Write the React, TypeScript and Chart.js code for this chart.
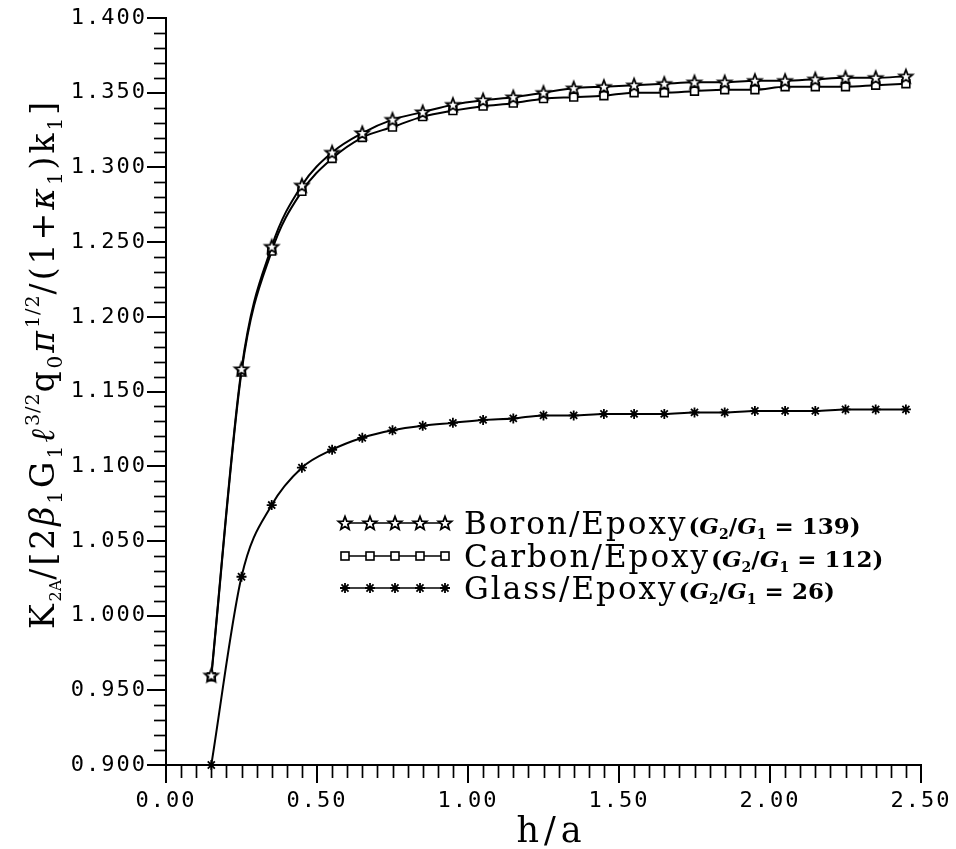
import React, { useEffect, useRef } from 'react';
import { Chart, registerables } from 'chart.js';

Chart.register(...registerables);

// ---- data ----
const hOverA = [0.15, 0.25, 0.35, 0.45, 0.55, 0.65, 0.75, 0.85, 0.95, 1.05, 1.15, 1.25, 1.35, 1.45, 1.55, 1.65, 1.75, 1.85, 1.95, 2.05, 2.15, 2.25, 2.35, 2.45];
const boronEpoxy = [0.960, 1.165, 1.247, 1.288, 1.310, 1.323, 1.332, 1.337, 1.342, 1.345, 1.347, 1.350, 1.353, 1.354, 1.355, 1.356, 1.357, 1.357, 1.358, 1.358, 1.359, 1.360, 1.360, 1.361];
const carbonEpoxy = [0.959, 1.163, 1.244, 1.284, 1.306, 1.320, 1.327, 1.334, 1.338, 1.341, 1.343, 1.346, 1.347, 1.348, 1.350, 1.350, 1.351, 1.352, 1.352, 1.354, 1.354, 1.354, 1.355, 1.356];
const glassEpoxy = [0.900, 1.026, 1.074, 1.099, 1.111, 1.119, 1.124, 1.127, 1.129, 1.131, 1.132, 1.134, 1.134, 1.135, 1.135, 1.135, 1.136, 1.136, 1.137, 1.137, 1.137, 1.138, 1.138, 1.138];
const seriesNames = ['Boron/Epoxy', 'Carbon/Epoxy', 'Glass/Epoxy'];
const shearRatios = ['139', '112', '26'];
const xMin = 0, xMax = 2.5, xMajorStep = 0.5, xMinorStep = 0.05;
const yMin = 0.9, yMax = 1.4, yMajorStep = 0.05, yMinorStep = 0.01;
const xTitle = 'h/a';

type Seg = { t: string; font: string; dy?: number; ls?: number };

function segWidth(ctx: CanvasRenderingContext2D, segs: Seg[]) {
  let w = 0;
  for (const s of segs) {
    ctx.font = s.font;
    (ctx as any).letterSpacing = (s.ls ?? 0) + 'px';
    w += ctx.measureText(s.t).width;
  }
  return w;
}
function drawSegs(ctx: CanvasRenderingContext2D, segs: Seg[], x: number, y: number) {
  let cx = x;
  for (const s of segs) {
    ctx.font = s.font;
    (ctx as any).letterSpacing = (s.ls ?? 0) + 'px';
    ctx.fillText(s.t, cx, y + (s.dy ?? 0));
    cx += ctx.measureText(s.t).width;
  }
  return cx - x;
}

function makeStarCanvas(outer: number, inner: number, lw: number) {
  const size = Math.ceil(outer * 2 + lw * 2 + 2);
  const c = document.createElement('canvas');
  c.width = size; c.height = size;
  const g = c.getContext('2d')!;
  const cx = size / 2, cy = size / 2 + 0.5;
  g.beginPath();
  for (let i = 0; i < 10; i++) {
    const r = i % 2 === 0 ? outer : inner;
    const a = -Math.PI / 2 + (i * Math.PI) / 5;
    const px = cx + r * Math.cos(a), py = cy + r * Math.sin(a);
    if (i === 0) g.moveTo(px, py); else g.lineTo(px, py);
  }
  g.closePath();
  g.fillStyle = '#fff';
  g.fill();
  g.lineWidth = lw;
  g.strokeStyle = '#000';
  g.stroke();
  return c;
}

const SERIF = '"DejaVu Serif"';

export default function App() {
  const ref = useRef<HTMLCanvasElement | null>(null);
  useEffect(() => {
    const canvas = ref.current!;
    const starImg = makeStarCanvas(7, 3, 1.8);

    const decor = {
      id: 'decor',
      beforeDraw(chart: any) {
        chart.ctx.letterSpacing = '2px';
      },
      afterDraw(chart: any) {
        const ctx: CanvasRenderingContext2D = chart.ctx;
        const ca = chart.chartArea;
        const xs = chart.scales.x, ys = chart.scales.y;
        ctx.save();
        ctx.strokeStyle = '#000';
        ctx.fillStyle = '#000';
        ctx.lineWidth = 1.7;
        // minor ticks
        const nY = Math.round((yMax - yMin) / yMinorStep);
        const perY = Math.round(yMajorStep / yMinorStep);
        for (let k = 1; k < nY; k++) {
          if (k % perY === 0) continue;
          const py = Math.round(ys.getPixelForValue(yMin + k * yMinorStep)) + 0.5;
          ctx.beginPath(); ctx.moveTo(ca.left - 12, py); ctx.lineTo(ca.left, py); ctx.stroke();
        }
        const nX = Math.round((xMax - xMin) / xMinorStep);
        const perX = Math.round(xMajorStep / xMinorStep);
        for (let k = 1; k < nX; k++) {
          if (k % perX === 0) continue;
          const px = Math.round(xs.getPixelForValue(xMin + k * xMinorStep)) + 0.5;
          ctx.beginPath(); ctx.moveTo(px, ca.bottom); ctx.lineTo(px, ca.bottom + 13); ctx.stroke();
        }

        // x title
        ctx.textAlign = 'left';
        ctx.textBaseline = 'alphabetic';
        const xt: Seg[] = [{ t: xTitle, font: `35px ${SERIF}`, ls: 5 }];
        const xw = segWidth(ctx, xt);
        drawSegs(ctx, xt, (ca.left + ca.right) / 2 + 8 - xw / 2, 842);

        // y title
        const B = `33px ${SERIF}`, BI = `italic 33px ${SERIF}`, S = `20px ${SERIF}`, P = `19px ${SERIF}`;
        const sub = 8, sup = -15, ls = 3;
        const yt: Seg[] = [
          { t: 'K', font: B, ls }, { t: '2A', font: `16px ${SERIF}`, dy: 7, ls: 0 },
          { t: '/[2', font: B, ls }, { t: 'β', font: BI, ls }, { t: '1', font: S, dy: sub, ls },
          { t: 'G', font: B, ls }, { t: '1', font: S, dy: sub, ls },
          { t: 'ℓ', font: BI, ls }, { t: '3/2', font: P, dy: sup, ls: 1 },
          { t: 'q', font: B, ls }, { t: '0', font: S, dy: sub, ls },
          { t: 'π', font: BI, ls }, { t: '1/2', font: P, dy: sup, ls: 1 },
          { t: '/(1+', font: B, ls }, { t: 'κ', font: BI, ls }, { t: '1', font: S, dy: sub, ls },
          { t: ')k', font: B, ls }, { t: '1', font: S, dy: sub, ls }, { t: ']', font: B, ls },
        ];
        const yw = segWidth(ctx, yt);
        ctx.save();
        ctx.translate(54, 364);
        ctx.rotate(-Math.PI / 2);
        drawSegs(ctx, yt, -yw / 2, 0);
        ctx.restore();

        // legend
        const lx0 = ca.left + 179;
        const gap = 25;
        const rows = [ca.top + 505, ca.top + 538, ca.top + 570];
        rows.forEach((ry, r) => {
          ctx.lineWidth = 1.7;
          ctx.beginPath(); ctx.moveTo(lx0, ry); ctx.lineTo(lx0 + gap * 4, ry); ctx.stroke();
          for (let i = 0; i < 5; i++) {
            const mx = lx0 + gap * i;
            if (r === 0) {
              ctx.drawImage(starImg, mx - starImg.width / 2, ry - starImg.height / 2);
            } else if (r === 1) {
              ctx.fillStyle = '#fff';
              ctx.fillRect(mx - 4, ry - 4, 8, 8);
              ctx.lineWidth = 1.6;
              ctx.strokeRect(mx - 4, ry - 4, 8, 8);
              ctx.fillStyle = '#000';
            } else {
              ctx.lineWidth = 1.8;
              ctx.beginPath();
              for (let a = 0; a < 4; a++) {
                const ang = (a * Math.PI) / 4;
                const dx = Math.cos(ang) * 5, dy = Math.sin(ang) * 5;
                ctx.moveTo(mx - dx, ry - dy); ctx.lineTo(mx + dx, ry + dy);
              }
              ctx.stroke();
            }
          }
          ctx.fillStyle = '#000';
          const tx = ca.left + 298;
          const base = ry + 11;
          const w1 = drawSegs(ctx, [{ t: seriesNames[r], font: `31px ${SERIF}`, ls: 2 }], tx, base);
          const bb = `bold 23px ${SERIF}`, bi = `bold italic 23px ${SERIF}`, bs = `bold 14px ${SERIF}`;
          drawSegs(ctx, [
            { t: '(', font: bb }, { t: 'G', font: bi }, { t: '2', font: bs, dy: 5 },
            { t: '/', font: bb }, { t: 'G', font: bi }, { t: '1', font: bs, dy: 5 },
            { t: ' = ' + shearRatios[r] + ')', font: bb },
          ], tx + w1 + 1, base);
        });
        (ctx as any).letterSpacing = '0px';
        ctx.restore();
      },
    };

    const common = {
      borderColor: '#000',
      borderWidth: 2,
      fill: false,
      cubicInterpolationMode: 'monotone' as const,
      clip: false as any,
    };

    const tickFont = { family: 'DejaVu Sans Mono', size: 22 };

    const chart = new Chart(canvas, {
      type: 'line',
      data: {
        datasets: [
          {
            ...common,
            label: seriesNames[0],
            data: hOverA.map((x, i) => ({ x, y: boronEpoxy[i] })),
            pointStyle: starImg as any,
            pointRadius: 7,
          },
          {
            ...common,
            label: seriesNames[1],
            data: hOverA.map((x, i) => ({ x, y: carbonEpoxy[i] })),
            pointStyle: 'rect',
            pointRadius: 5.5,
            pointBackgroundColor: '#fff',
            pointBorderColor: '#000',
            pointBorderWidth: 1.6,
          },
          {
            ...common,
            label: seriesNames[2],
            data: hOverA.map((x, i) => ({ x, y: glassEpoxy[i] })),
            pointStyle: 'star',
            pointRadius: 5,
            pointBorderColor: '#000',
            pointBorderWidth: 1.8,
          },
        ],
      },
      options: {
        animation: false,
        responsive: false,
        events: [],
        layout: { padding: { left: 0, top: 18, right: 35, bottom: 0 } },
        plugins: { legend: { display: false }, tooltip: { enabled: false } },
        scales: {
          x: {
            type: 'linear',
            min: xMin,
            max: xMax,
            afterFit: (s: any) => { s.height = 84; },
            ticks: {
              stepSize: xMajorStep,
              callback: (v: any) => Number(v).toFixed(2),
              font: tickFont,
              color: '#000',
              padding: 5,
              maxRotation: 0,
              autoSkip: false,
            },
            grid: { drawOnChartArea: false, drawTicks: true, tickLength: 18, color: '#000', lineWidth: 2 },
            border: { display: true, color: '#000', width: 2 },
          },
          y: {
            type: 'linear',
            min: yMin,
            max: yMax,
            afterFit: (s: any) => { s.width = 166; },
            ticks: {
              stepSize: yMajorStep,
              callback: (v: any) => Number(v).toFixed(3),
              font: tickFont,
              color: '#000',
              padding: 0,
              autoSkip: false,
            },
            grid: { drawOnChartArea: false, drawTicks: true, tickLength: 19, color: '#000', lineWidth: 2 },
            border: { display: true, color: '#000', width: 2 },
          },
        },
      },
      plugins: [decor],
    });
    return () => chart.destroy();
  }, []);

  return (
    <div style={{ position: 'absolute', left: 0, top: 0, width: 956, height: 849, background: '#fff' }}>
      <canvas ref={ref} width={956} height={849} style={{ display: 'block' }} />
    </div>
  );
}
